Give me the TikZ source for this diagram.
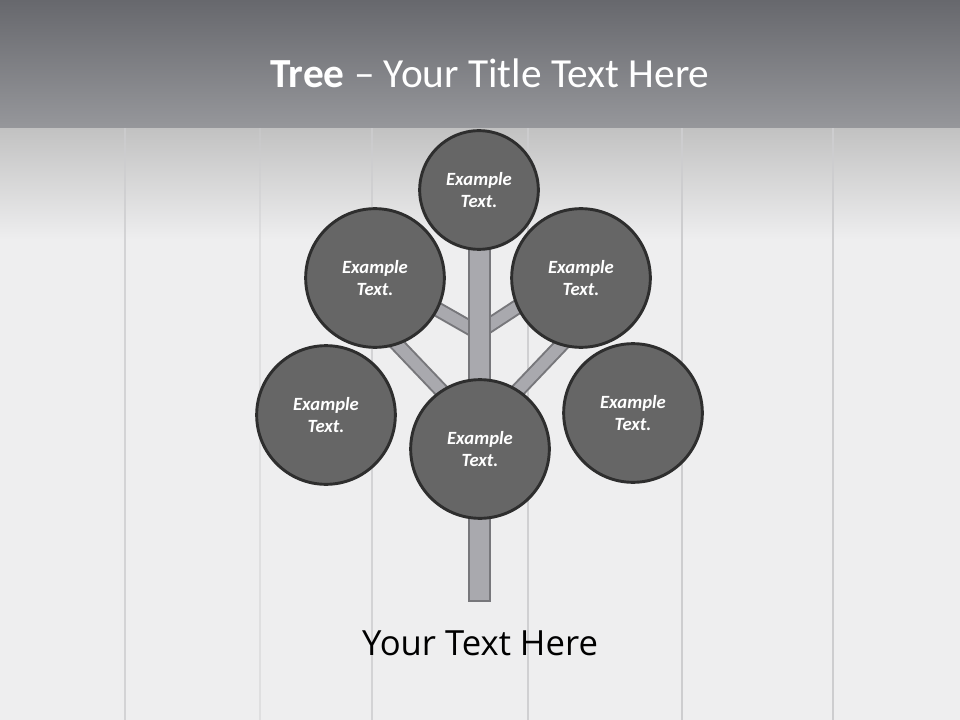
\documentclass[tikz,border=0pt]{standalone}
\usepackage{fontspec}
\setmainfont{Carlito}
\newfontfamily\bodyfont{Open Sans}
\usetikzlibrary{positioning}

\definecolor{bandtop}{HTML}{67686D}
\definecolor{bandbot}{HTML}{96979B}
\definecolor{woodbg}{HTML}{EEEEEF}
\definecolor{plankline}{HTML}{CDCDCF}
\definecolor{leaffill}{HTML}{666666}
\definecolor{leafline}{HTML}{2E2E2E}
\definecolor{trunkfill}{HTML}{A9A9AE}
\definecolor{trunkline}{HTML}{77777B}

\begin{document}
\begin{tikzpicture}[x=0.75pt, y=-0.75pt,
    leaf/.style={circle, fill=leaffill, draw=leafline, line width=2.2pt, minimum size=104pt, inner sep=0pt,
      text=white, align=center, font=\fontsize{14}{17}\selectfont\bfseries\itshape},
    branch/.style={draw=trunkline, line width=1.5pt, double=trunkfill, double distance=8.5pt},
    trunk/.style={fill=trunkfill, draw=trunkline, line width=1.8pt}]
    \useasboundingbox (0,0) rectangle (960,720);

    % Wooden background
    \fill[woodbg] (0,0) rectangle (960,720);
    \shade[top color=black!24, bottom color=woodbg] (0,128) rectangle (960,240);
    \foreach \px/\op in {125/0.8, 260/0.45, 372/0.8, 528/0.9, 682/1, 833/1}
        \draw[plankline, line width=1.3pt, opacity=\op] (\px,128) -- (\px,720);

    % Title band
    \shade[top color=bandtop, bottom color=bandbot] (0,0) rectangle (960,128);
    \node[anchor=base, text=white, font=\fontsize{31}{37}\selectfont] (title) at (490,88) {\textbf{Tree} – Your Title Text Here};

    % Branch ends
    \coordinate (forkL) at (479,333);
    \coordinate (tipL) at (400,288);
    \coordinate (forkR) at (479,332);
    \coordinate (tipR) at (560,279);
    \coordinate (lowforkL) at (475,426);
    \coordinate (lowtipL) at (375,321);
    \coordinate (lowforkR) at (484,426);
    \coordinate (lowtipR) at (584,321);

    % Branches and trunk
    \draw[branch] (forkL) -- (tipL);
    \draw[branch] (forkR) -- (tipR);
    \draw[branch] (lowforkL) -- (lowtipL);
    \draw[branch] (lowforkR) -- (lowtipR);
    \draw[trunk] (469,245) rectangle (490,601);

    % Leaves
    \node[leaf, minimum size=89pt] (crown) at (479,190) {Example\\Text.};
    \node[leaf] (upleft) at (375,278) {Example\\Text.};
    \node[leaf] (upright) at (581,278) {Example\\Text.};
    \node[leaf] (lowleft) at (326,415) {Example\\Text.};
    \node[leaf] (base) at (480,449) {Example\\Text.};
    \node[leaf] (lowright) at (633,413) {Example\\Text.};

    % Caption
    \node[anchor=base, font=\bodyfont\fontsize{26}{31}\selectfont] (caption) at (480,655) {Your Text Here};
\end{tikzpicture}
\end{document}
